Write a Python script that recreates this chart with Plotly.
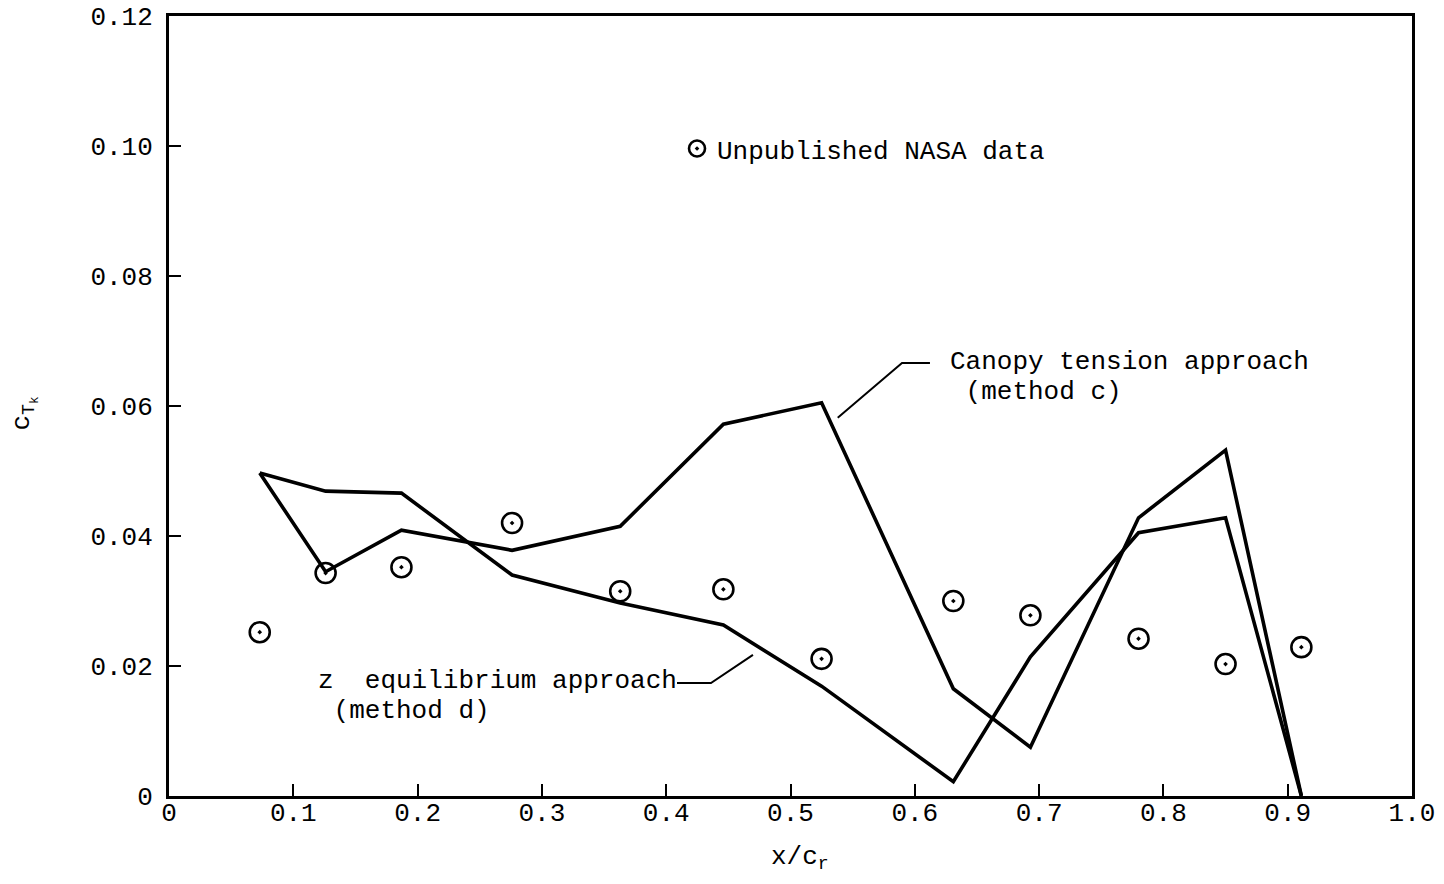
import plotly.graph_objects as go

# Stations along the chord (x/c_r)
x_data = [0.073, 0.126, 0.187, 0.276, 0.363, 0.446, 0.525, 0.631, 0.693, 0.780, 0.850, 0.911]
# Unpublished NASA data
nasa_y = [0.0252, 0.0343, 0.0352, 0.0420, 0.0315, 0.0318, 0.0211, 0.0300, 0.0278, 0.0242, 0.0203, 0.0229]
# Canopy tension approach (method c)
canopy_y = [0.0497, 0.0345, 0.0409, 0.0378, 0.0415, 0.0572, 0.0605, 0.0165, 0.0075, 0.0428, 0.0532, 0.0]
# z equilibrium approach (method d)
zeq_y = [0.0497, 0.0469, 0.0466, 0.0340, 0.0297, 0.0263, 0.0169, 0.0022, 0.0214, 0.0405, 0.0428, 0.0]

x_ticks = [0, 0.1, 0.2, 0.3, 0.4, 0.5, 0.6, 0.7, 0.8, 0.9, 1.0]
x_tick_text = ["0", "0.1", "0.2", "0.3", "0.4", "0.5", "0.6", "0.7", "0.8", "0.9", "1.0"]
y_ticks = [0, 0.02, 0.04, 0.06, 0.08, 0.10, 0.12]
y_tick_text = ["0", "0.02", "0.04", "0.06", "0.08", "0.10", "0.12"]

FONT = "Liberation Mono, Courier New, monospace"
FS = 26

fig = go.Figure()
fig.add_trace(go.Scatter(x=x_data, y=canopy_y, mode="lines",
                         line=dict(color="black", width=3.6), showlegend=False))
fig.add_trace(go.Scatter(x=x_data, y=zeq_y, mode="lines",
                         line=dict(color="black", width=3.6), showlegend=False))
fig.add_trace(go.Scatter(x=x_data, y=nasa_y, mode="markers", name="Unpublished NASA data",
                         marker=dict(symbol="circle-open-dot", size=20, color="black",
                                     line=dict(width=2.6, color="black")),
                         showlegend=True))

# Leader lines (callouts) for curve labels
fig.add_shape(type="path", path="M 0.538 0.0582 L 0.5897 0.0666 L 0.6122 0.0666",
              xref="x", yref="y", line=dict(color="black", width=2))
fig.add_shape(type="path", path="M 0.4087 0.01738 L 0.436 0.01738 L 0.4698 0.0217",
              xref="x", yref="y", line=dict(color="black", width=2))

ann_font = dict(family=FONT, size=FS, color="black")
fig.add_annotation(x=0.6267, y=0.0668, xref="x", yref="y", text="Canopy tension approach",
                   showarrow=False, xanchor="left", yanchor="middle", font=ann_font)
fig.add_annotation(x=0.6267, y=0.0622, xref="x", yref="y", text="\u00a0(method c)",
                   showarrow=False, xanchor="left", yanchor="middle", font=ann_font)
fig.add_annotation(x=0.118, y=0.0177, xref="x", yref="y", text="z\u00a0\u00a0equilibrium approach",
                   showarrow=False, xanchor="left", yanchor="middle", font=ann_font)
fig.add_annotation(x=0.118, y=0.0131, xref="x", yref="y", text="\u00a0(method d)",
                   showarrow=False, xanchor="left", yanchor="middle", font=ann_font)

# Axis titles
fig.add_annotation(x=-0.116, y=0.49, xref="paper", yref="paper",
                   text="c<sub>T<sub>k</sub></sub>", textangle=-90, showarrow=False,
                   xanchor="center", yanchor="middle", font=ann_font)
fig.add_annotation(x=0.5076, y=-0.08, xref="paper", yref="paper",
                   text="x/c<sub>r</sub>", showarrow=False,
                   xanchor="center", yanchor="middle", font=ann_font)

axis_common = dict(showgrid=False, zeroline=False, showline=True, linecolor="black",
                   linewidth=3, mirror=True, ticks="inside", ticklen=12, tickwidth=2,
                   tickcolor="black", automargin=False, ticklabeloverflow="allow",
                   tickfont=dict(family=FONT, size=FS, color="black"))

fig.update_xaxes(range=[0, 1.0], tickvals=x_ticks, ticktext=x_tick_text,
                 ticklabelstandoff=-9, **axis_common)
fig.update_yaxes(range=[0, 0.12], tickvals=y_ticks, ticktext=y_tick_text,
                 ticklabelstandoff=8, **axis_common)

fig.update_layout(
    width=1444, height=884,
    margin=dict(l=169, r=32, t=16, b=88),
    paper_bgcolor="white", plot_bgcolor="white",
    font=dict(family=FONT, size=FS, color="black"),
    legend=dict(x=0.4087, y=0.83, xanchor="left", yanchor="middle",
                bgcolor="rgba(0,0,0,0)", font=dict(family=FONT, size=FS, color="black"),
                itemwidth=30),
)

fig.write_html("out.html", config={"displayModeBar": False},
               post_script="document.body.style.margin='0px';document.body.style.overflow='hidden';")
